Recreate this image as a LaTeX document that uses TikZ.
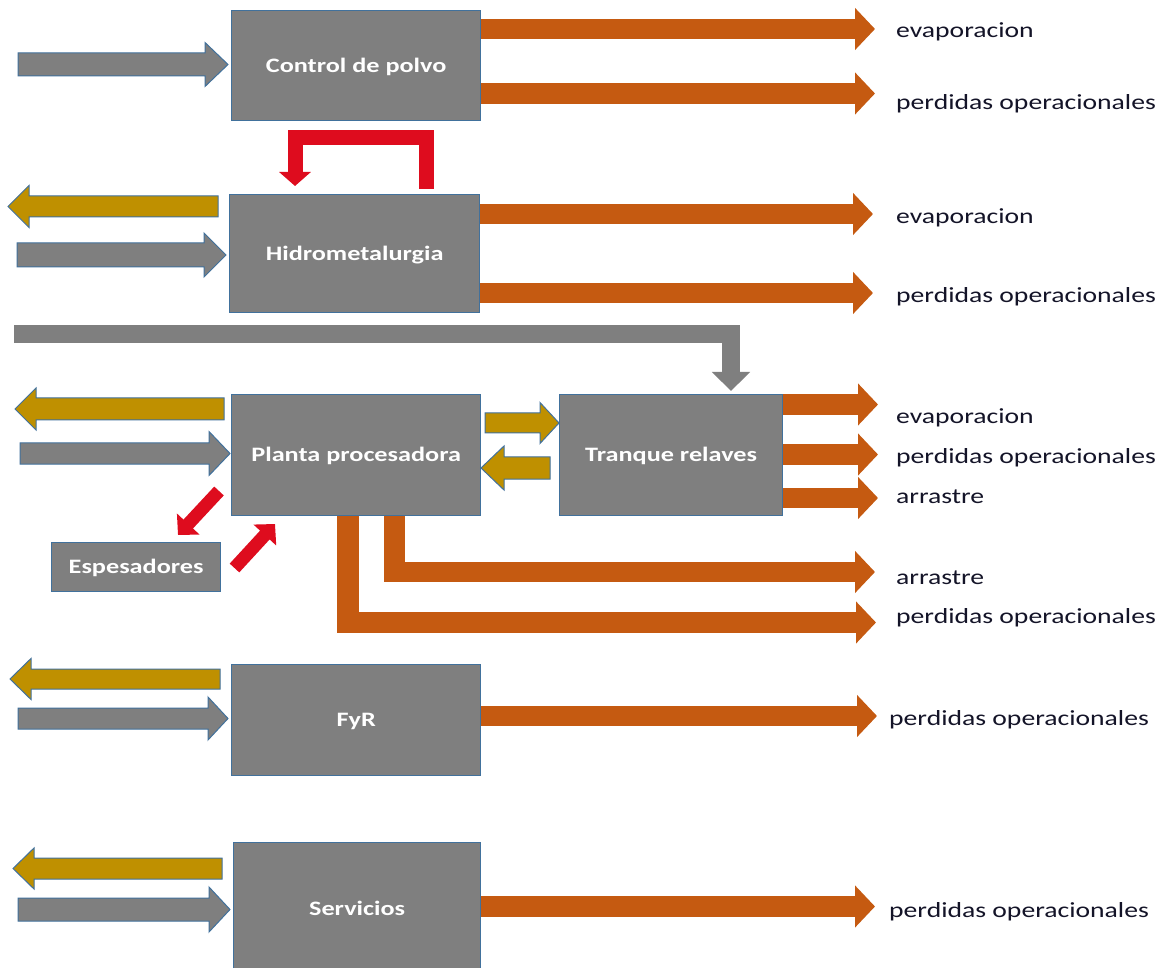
\documentclass[tikz,border=0pt]{standalone}
\usepackage{fontspec}
\setmainfont{Carlito}[FakeStretch=1.28]
\usetikzlibrary{calc,arrows.meta}
\definecolor{boxgray}{RGB}{127,127,127}
\definecolor{edgeblue}{RGB}{65,113,156}
\definecolor{orng}{RGB}{197,90,17}
\definecolor{goldc}{RGB}{191,144,0}
\definecolor{redc}{RGB}{222,12,30}
\definecolor{txtc}{RGB}{20,20,40}
\newcommand{\bxfont}{\bfseries\fontsize{20.5}{24}\selectfont}
\newcommand{\lbfont}{\fontsize{21.6}{26}\selectfont}
% block arrow: style, tail, tip, half shaft, half head, head length
\newcommand{\blockarrow}[6]{%
  \coordinate (baH) at ($(#3)!#6!(#2)$);
  \path[#1] ($(#2)!#4!90:(#3)$) -- ($(baH)!#4!90:(#3)$) -- ($(baH)!#5!90:(#3)$) -- (#3)
    -- ($(baH)!#5!-90:(#3)$) -- ($(baH)!#4!-90:(#3)$) -- ($(#2)!#4!-90:(#3)$) -- cycle;}
\begin{document}
\begin{tikzpicture}[x=1pt,y=-1pt,
  box/.style={draw=edgeblue, line width=1.3pt, fill=boxgray, text=white, font=\bxfont,
    inner sep=0pt, anchor=north west, text height=17pt, text depth=4pt, align=center},
  lbl/.style={font=\lbfont, text=txtc, inner sep=0pt, anchor=base west},
  grayarr/.style={fill=boxgray, draw=edgeblue, line width=1pt, line join=miter},
  goldarr/.style={fill=goldc, draw=edgeblue, line width=1pt, line join=miter},
  orline/.style={draw=orng, line width=20.5pt, line join=miter,
    -{Triangle[width=41pt,length=20pt]}},
  redline/.style={draw=redc, line width=15pt, line join=miter,
    -{Triangle[width=31pt,length=14pt]}},
  redline2/.style={draw=redc, line width=13pt,
    -{Triangle[width=30pt,length=15pt]}},
  grline/.style={draw=boxgray, line width=18pt, line join=miter,
    -{Triangle[width=37pt,length=19pt]}}]
\useasboundingbox (0,0) rectangle (1171,968);
\fill[white] (0,0) rectangle (1171,968);

% boxes
\node[box, minimum width=249pt, minimum height=110pt] (cp) at (231,10) {Control de polvo};
\node[box, minimum width=250pt, minimum height=118pt] (hm) at (229,194) {Hidrometalurgia};
\node[box, minimum width=249pt, minimum height=121pt] (pp) at (231,394) {Planta procesadora};
\node[box, minimum width=223pt, minimum height=121pt] (tr) at (559,394) {Tranque relaves};
\node[box, minimum width=169pt, minimum height=49pt] (es) at (51,542) {Espesadores};
\node[box, minimum width=249pt, minimum height=111pt] (fyr) at (231,664) {FyR};
\node[box, minimum width=247pt, minimum height=132pt] (sv) at (233,842) {Servicios};

% free ends of connectors
\coordinate (cpIn) at (18,64.5);   \coordinate (cpInT) at (228,64.5);
\coordinate (hmIn) at (17,255);    \coordinate (hmInT) at (226,255);
\coordinate (hmOut) at (218,206.5); \coordinate (hmOutT) at (8,206.5);
\coordinate (ppOut) at (224,409);  \coordinate (ppOutT) at (15,409);
\coordinate (ppIn) at (20,453.5);  \coordinate (ppInT) at (230,453.5);
\coordinate (ptS) at (485,423);    \coordinate (ptT) at (559,423);
\coordinate (tpS) at (550,468);    \coordinate (tpT) at (481,468);
\coordinate (fyOut) at (220,679);  \coordinate (fyOutT) at (10,679);
\coordinate (fyIn) at (18,718.5);  \coordinate (fyInT) at (228,718.5);
\coordinate (svOut) at (222,868.5); \coordinate (svOutT) at (13,868.5);
\coordinate (svIn) at (18,909.5);  \coordinate (svInT) at (230,909.5);

% inputs / outputs on the left
\blockarrow{grayarr}{cpIn}{cpInT}{11.5pt}{22pt}{23pt}
\blockarrow{goldarr}{hmOut}{hmOutT}{10.5pt}{21pt}{21pt}
\blockarrow{grayarr}{hmIn}{hmInT}{12pt}{22pt}{22pt}
\blockarrow{goldarr}{ppOut}{ppOutT}{11pt}{21pt}{21pt}
\blockarrow{grayarr}{ppIn}{ppInT}{10.5pt}{22pt}{21pt}
\blockarrow{goldarr}{ptS}{ptT}{10pt}{20.5pt}{19pt}
\blockarrow{goldarr}{tpS}{tpT}{11pt}{22pt}{23pt}
\blockarrow{goldarr}{fyOut}{fyOutT}{10pt}{20.5pt}{21pt}
\blockarrow{grayarr}{fyIn}{fyInT}{10.5pt}{21.5pt}{20pt}
\blockarrow{goldarr}{svOut}{svOutT}{10.5pt}{20.5pt}{21pt}
\blockarrow{grayarr}{svIn}{svInT}{11.5pt}{22.5pt}{21pt}

% orange outputs
\coordinate (o1) at (875,29);    \coordinate (o2) at (875,93.5);
\coordinate (o3) at (873,214);   \coordinate (o4) at (873,293);
\coordinate (o5) at (878,404.5); \coordinate (o6) at (878,454.5);
\coordinate (o7) at (878,498);   \coordinate (o8) at (875,572);
\coordinate (o9) at (876,622.5); \coordinate (o10) at (877,716);
\coordinate (o11) at (875,906.5);
\draw[orline] (o1 -| cp.east) -- (o1);
\draw[orline] (o2 -| cp.east) -- (o2);
\draw[orline] (o3 -| hm.east) -- (o3);
\draw[orline] (o4 -| hm.east) -- (o4);
\draw[orline] (o5 -| tr.east) -- (o5);
\draw[orline] (o6 -| tr.east) -- (o6);
\draw[orline] (o7 -| tr.east) -- (o7);
\draw[orline] ($(pp.south west)+(163.5,0)$) |- (o8);
\draw[orline, line width=21.5pt] ($(pp.south west)+(117,0)$) |- (o9);
\draw[orline] (o10 -| fyr.east) -- (o10);
\draw[orline] (o11 -| sv.east) -- (o11);

% red loop between Hidrometalurgia and Control de polvo
\coordinate (rA) at ($(hm.north west)+(197,-5)$);
\coordinate (rB) at (295,137.5);
\coordinate (rT) at ($(hm.north west)+(66,-8)$);
\draw[redline] (rA) |- (rB) -- (rT);

% red arrows with Espesadores
\coordinate (e1s) at (219,491);   \coordinate (e1t) at (178,535);
\coordinate (e2s) at (234.5,568); \coordinate (e2t) at (275,524);
\draw[redline2] (e1s) -- (e1t);
\draw[redline2] (e2s) -- (e2t);

% gray line to Tranque relaves
\coordinate (gS) at (14,334);
\coordinate (gC) at (731,334);
\coordinate (gT) at ($(tr.north west)+(172,-3)$);
\draw[grline] (gS) -- (gC) -- (gT);

% labels
\node[lbl] (l1) at (896,37.5) {evaporacion};
\node[lbl] (l2) at (896,109.5) {perdidas operacionales};
\node[lbl] (l3) at (896,223.5) {evaporacion};
\node[lbl] (l4) at (896,302.5) {perdidas operacionales};
\node[lbl] (l5) at (896,424) {evaporacion};
\node[lbl] (l6) at (896,464) {perdidas operacionales};
\node[lbl] (l7) at (896,503) {arrastre};
\node[lbl] (l8) at (896,584) {arrastre};
\node[lbl] (l9) at (896,623) {perdidas operacionales};
\node[lbl] (l10) at (889,725) {perdidas operacionales};
\node[lbl] (l11) at (889,917) {perdidas operacionales};
\end{tikzpicture}
\end{document}
